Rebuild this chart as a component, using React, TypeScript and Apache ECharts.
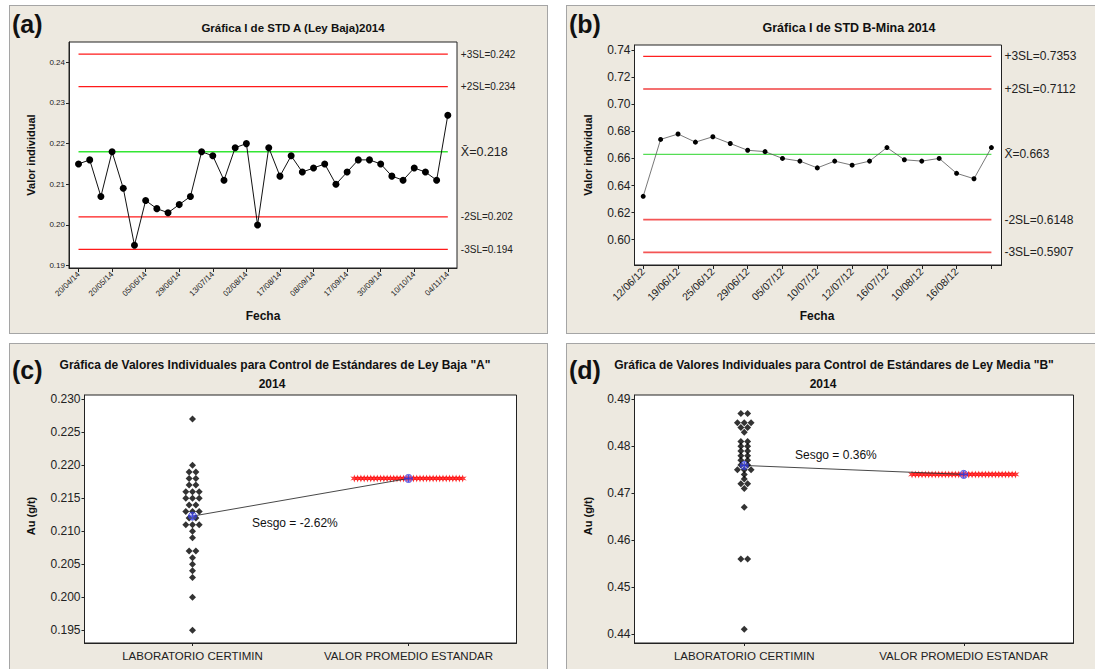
import React, { useEffect, useRef } from "react";
import * as echarts from "echarts";

// ---------- Panel (a) ----------
const datesA = ["20/04/14", "20/05/14", "05/06/14", "29/06/14", "13/07/14", "02/08/14", "17/08/14", "08/09/14", "17/09/14", "30/09/14", "10/10/14", "04/11/14"];
const valuesA = [0.215, 0.216, 0.207, 0.218, 0.209, 0.195, 0.206, 0.204, 0.203, 0.205, 0.207, 0.218, 0.217, 0.211, 0.219, 0.220, 0.200, 0.219, 0.212, 0.217, 0.213, 0.214, 0.215, 0.210, 0.213, 0.216, 0.216, 0.215, 0.212, 0.211, 0.214, 0.213, 0.211, 0.227];
const limitNamesA = ["+3SL=0.242", "+2SL=0.234", "X\u0304=0.218", "-2SL=0.202", "-3SL=0.194"];
const limitValuesA = [0.242, 0.234, 0.218, 0.202, 0.194];
const yTicksA = [0.19, 0.2, 0.21, 0.22, 0.23, 0.24];

// ---------- Panel (b) ----------
const datesB = ["12/06/12", "19/06/12", "25/06/12", "29/06/12", "05/07/12", "10/07/12", "12/07/12", "16/07/12", "10/08/12", "16/08/12", ""];
const valuesB = [0.632, 0.674, 0.678, 0.672, 0.676, 0.671, 0.666, 0.665, 0.660, 0.658, 0.653, 0.658, 0.655, 0.658, 0.668, 0.659, 0.658, 0.660, 0.649, 0.645, 0.668];
const limitNamesB = ["+3SL=0.7353", "+2SL=0.7112", "X\u0304=0.663", "-2SL=0.6148", "-3SL=0.5907"];
const limitValuesB = [0.7353, 0.7112, 0.663, 0.6148, 0.5907];
const yTicksB = [0.6, 0.62, 0.64, 0.66, 0.68, 0.7, 0.72, 0.74];

// ---------- Panel (c) ----------
const groupsCD = ["LABORATORIO CERTIMIN", "VALOR PROMEDIO ESTANDAR"];
const labC = valuesA;
const stdValueC = 0.218;
const stdCountC = 34;
const yTicksC = [0.195, 0.2, 0.205, 0.21, 0.215, 0.22, 0.225, 0.23];
const sesgoC = "Sesgo = -2.62%";

// ---------- Panel (d) ----------
const labD = [0.487, 0.487, 0.485, 0.485, 0.485, 0.484, 0.484, 0.483, 0.481, 0.481, 0.480, 0.480, 0.479, 0.479, 0.478, 0.478, 0.477, 0.477, 0.476, 0.476, 0.475, 0.475, 0.475, 0.474, 0.473, 0.472, 0.472, 0.471, 0.467, 0.456, 0.456, 0.441];
const stdValueD = 0.474;
const stdCountD = 32;
const yTicksD = [0.44, 0.45, 0.46, 0.47, 0.48, 0.49];
const sesgoD = "Sesgo = 0.36%";

const FONT = "'Liberation Sans', Arial, sans-serif";
const BEIGE = "#EDE9E0";

const mean = (a: number[]) => a.reduce((s, v) => s + v, 0) / a.length;

function stackDots(values: number[], center: number, step: number) {
  const groups = new Map<number, number>();
  values.forEach((v) => groups.set(v, (groups.get(v) || 0) + 1));
  const out: number[][] = [];
  groups.forEach((n, v) => {
    for (let k = 0; k < n; k++) out.push([center + (k - (n - 1) / 2) * step, v]);
  });
  return out;
}

function rowDots(value: number, count: number, center: number, step: number) {
  const vals: number[] = [];
  for (let k = 0; k < count; k++) vals.push(value);
  return vals.map((v, k) => [center + (k - (count - 1) / 2) * step, v]);
}

const txt = (x: number, y: number, text: string, font: string, align = "center", rotation = 0) => ({
  type: "text",
  x,
  y,
  rotation,
  style: { text, font, fill: "#111", textAlign: align, textVerticalAlign: "middle" },
});

export default function App() {
  const ref = useRef<HTMLDivElement>(null);

  useEffect(() => {
    if (!ref.current) return;
    const chart = echarts.init(ref.current, undefined, { renderer: "svg" });

    const gridBase = { show: true, backgroundColor: "#fff", borderColor: "#222", borderWidth: 1, containLabel: false, outerBoundsMode: "none" };
    const axisLineS = { show: true, onZero: false, lineStyle: { color: "#222", width: 1 } };

    const tickIdxA = datesA.map((_, i) => i * 3);
    const tickIdxB = datesB.map((_, i) => i * 2);

    const limitColorsA = ["#ff1a1a", "#ff1a1a", "#33e633", "#ff1a1a", "#ff1a1a"];
    const limitColorsB = ["#ff2020", "#f04040", "#55dd55", "#f45555", "#f45555"];

    const limitSeries = (vals: number[], names: string[], colors: string[], n: number, xi: number, fs: number, fsMean: number, width: number) =>
      vals.map((v, i) => ({
        type: "line",
        xAxisIndex: xi,
        yAxisIndex: xi,
        data: [[0, v], [n - 1, v]],
        symbol: "none",
        z: 1,
        silent: true,
        color: colors[i],
        lineStyle: { color: colors[i], width: i >= 3 && xi === 1 ? width + 0.4 : width, opacity: 1 },
        endLabel: {
          show: true,
          formatter: names[i],
          distance: 13,
          fontSize: i === 2 ? fsMean : fs,
          fontFamily: FONT,
          color: "#222",
        },
      }));

    const meanLabC = mean(labC);
    const meanLabD = mean(labD);

    const stepLab = 0.031;
    const stepStd = 0.0152;
    const cross = "path://M4,0H6V4H10V6H6V10H4V6H0V4H4Z";
    const star = "path://M5,0L6,3.3L9.3,2.4L7,5L9.3,7.6L6,6.7L5,10L4,6.7L0.7,7.6L3,5L0.7,2.4L4,3.3Z";

    const dotSeries = (idx: number, lab: number[], stdV: number, stdN: number, meanLab: number) => [
      {
        type: "scatter",
        xAxisIndex: idx,
        yAxisIndex: idx,
        data: rowDots(stdV, stdN, 1.5, stepStd),
        symbol: star,
        symbolSize: 8,
        itemStyle: { color: "#ff0a0a" },
        z: 2,
      },
      {
        type: "line",
        xAxisIndex: idx,
        yAxisIndex: idx,
        data: [[0.5, meanLab], [1.5, stdV]],
        symbol: "none",
        lineStyle: { color: "#333", width: 0.9 },
        z: 3,
      },
      {
        type: "scatter",
        xAxisIndex: idx,
        yAxisIndex: idx,
        data: stackDots(lab, 0.5, stepLab),
        symbol: "diamond",
        symbolSize: 7,
        itemStyle: { color: "#000" },
        z: 3,
      },
      {
        type: "scatter",
        xAxisIndex: idx,
        yAxisIndex: idx,
        data: [[0.5, meanLab], [1.5, stdV]],
        symbol: "circle",
        symbolSize: 8,
        itemStyle: { color: "rgba(120,120,255,0.45)", borderColor: "#2a35e0", borderWidth: 1 },
        z: 4,
      },
      {
        type: "scatter",
        xAxisIndex: idx,
        yAxisIndex: idx,
        data: [[0.5, meanLab], [1.5, stdV]],
        symbol: cross,
        symbolSize: 7,
        itemStyle: { color: "#2a35e0" },
        z: 5,
      },
    ];

    const yAxis = (idx: number, min: number, max: number, ticks: number[], dec: number, fs: number) => ({
      gridIndex: idx,
      type: "value",
      min,
      max,
      axisLine: axisLineS,
      axisTick: { show: true, customValues: ticks, length: 3, lineStyle: { color: "#222" } },
      axisLabel: { customValues: ticks, formatter: (v: number) => v.toFixed(dec), fontSize: fs, fontFamily: FONT, color: "#222", margin: 4 },
      splitLine: { show: false },
    });

    const option = {
      animation: false,
      backgroundColor: "transparent",
      grid: [
        { ...gridBase, left: 69, top: 42, width: 388, height: 226 },
        { ...gridBase, left: 634.5, top: 45, width: 367, height: 220 },
        { ...gridBase, left: 84.5, top: 395, width: 432, height: 248 },
        { ...gridBase, left: 634.5, top: 395, width: 439, height: 248 },
      ],
      xAxis: [
        {
          gridIndex: 0,
          type: "value",
          min: -0.85,
          max: 33.82,
          axisLine: axisLineS,
          axisTick: { show: true, customValues: tickIdxA, length: 4, lineStyle: { color: "#222" } },
          axisLabel: {
            customValues: tickIdxA,
            formatter: (v: number) => datesA[Math.round(v / 3)] ?? "",
            rotate: 45,
            fontSize: 8,
            fontFamily: FONT,
            color: "#222",
            margin: 5,
          },
          splitLine: { show: false },
        },
        {
          gridIndex: 1,
          type: "value",
          min: -0.5,
          max: 20.58,
          axisLine: axisLineS,
          axisTick: { show: true, customValues: tickIdxB, length: 4, lineStyle: { color: "#222" } },
          axisLabel: {
            customValues: tickIdxB,
            formatter: (v: number) => datesB[Math.round(v / 2)] ?? "",
            rotate: 45,
            fontSize: 10.5,
            fontFamily: FONT,
            color: "#222",
            margin: 5,
          },
          splitLine: { show: false },
        },
        ...[2, 3].map((g) => ({
          gridIndex: g,
          type: "value",
          min: 0,
          max: 2,
          axisLine: axisLineS,
          axisTick: { show: true, customValues: [0.5, 1.5], length: 3, lineStyle: { color: "#222" } },
          axisLabel: {
            customValues: [0.5, 1.5],
            formatter: (v: number) => groupsCD[Math.round(v - 0.5)] ?? "",
            fontSize: 11.5,
            fontFamily: FONT,
            color: "#222",
            margin: 7,
          },
          splitLine: { show: false },
        })),
      ],
      yAxis: [
        yAxis(0, 0.1894, 0.245, yTicksA, 2, 8),
        yAxis(1, 0.58133, 0.74369, yTicksB, 2, 12),
        yAxis(2, 0.19307, 0.23065, yTicksC, 3, 12),
        yAxis(3, 0.43808, 0.49092, yTicksD, 2, 12),
      ],
      series: [
        ...limitSeries(limitValuesA, limitNamesA, limitColorsA, valuesA.length, 0, 10, 12.5, 1.3),
        {
          type: "line",
          xAxisIndex: 0,
          yAxisIndex: 0,
          data: valuesA.map((v, i) => [i, v]),
          symbol: "circle",
          symbolSize: 7,
          lineStyle: { color: "#111", width: 1 },
          itemStyle: { color: "#000" },
          z: 3,
        },
        ...limitSeries(limitValuesB, limitNamesB, limitColorsB, valuesB.length, 1, 12, 12, 1.4),
        {
          type: "line",
          xAxisIndex: 1,
          yAxisIndex: 1,
          data: valuesB.map((v, i) => [i, v]),
          symbol: "circle",
          symbolSize: 5,
          lineStyle: { color: "#555", width: 0.8 },
          itemStyle: { color: "#000" },
          z: 3,
        },
        ...dotSeries(2, labC, stdValueC, stdCountC, meanLabC),
        ...dotSeries(3, labD, stdValueD, stdCountD, meanLabD),
      ],
      graphic: [
        txt(12, 24, "(a)", `bold 25px ${FONT}`, "left"),
        txt(569, 24, "(b)", `bold 25px ${FONT}`, "left"),
        txt(12, 370, "(c)", `bold 25px ${FONT}`, "left"),
        txt(569, 370, "(d)", `bold 25px ${FONT}`, "left"),
        txt(293, 28, "Gráfica I de STD A (Ley Baja)2014", `bold 11.5px ${FONT}`),
        txt(849, 28, "Gráfica I de STD B-Mina 2014", `bold 12.5px ${FONT}`),
        txt(275, 365, "Gráfica de Valores Individuales para Control de Estándares de Ley Baja \"A\"", `bold 12px ${FONT}`),
        txt(272, 384, "2014", `bold 12px ${FONT}`),
        txt(834, 365, "Gráfica de Valores Individuales para Control de Estándares de Ley Media \"B\"", `bold 12px ${FONT}`),
        txt(823, 384, "2014", `bold 12px ${FONT}`),
        txt(263, 316, "Fecha", `bold 12px ${FONT}`),
        txt(817, 316, "Fecha", `bold 12px ${FONT}`),
        txt(31, 155, "Valor individual", `bold 11px ${FONT}`, "center", Math.PI / 2),
        txt(588, 155, "Valor individual", `bold 11px ${FONT}`, "center", Math.PI / 2),
        txt(31, 516, "Au (g/t)", `bold 11px ${FONT}`, "center", Math.PI / 2),
        txt(588, 516, "Au (g/t)", `bold 11px ${FONT}`, "center", Math.PI / 2),
        txt(252, 523, sesgoC, `12px ${FONT}`, "left"),
        txt(795, 455, sesgoD, `12px ${FONT}`, "left"),
      ],
    };

    chart.setOption(option as any);
    return () => chart.dispose();
  }, []);

  const panel = (left: number, top: number, width: number, height: number): React.CSSProperties => ({
    position: "absolute",
    left,
    top,
    width,
    height,
    background: BEIGE,
    border: "1px solid #a5a5a5",
    boxSizing: "border-box",
  });

  return (
    <div style={{ position: "fixed", left: 0, top: 0, width: 1095, height: 669, overflow: "hidden", background: "#fff" }}>
      <div style={panel(9, 5, 539, 329)} />
      <div style={panel(566, 5, 545, 329)} />
      <div style={panel(9, 343, 539, 340)} />
      <div style={panel(566, 343, 545, 340)} />
      <div ref={ref} style={{ position: "absolute", left: 0, top: 0, width: 1095, height: 669 }} />
    </div>
  );
}
